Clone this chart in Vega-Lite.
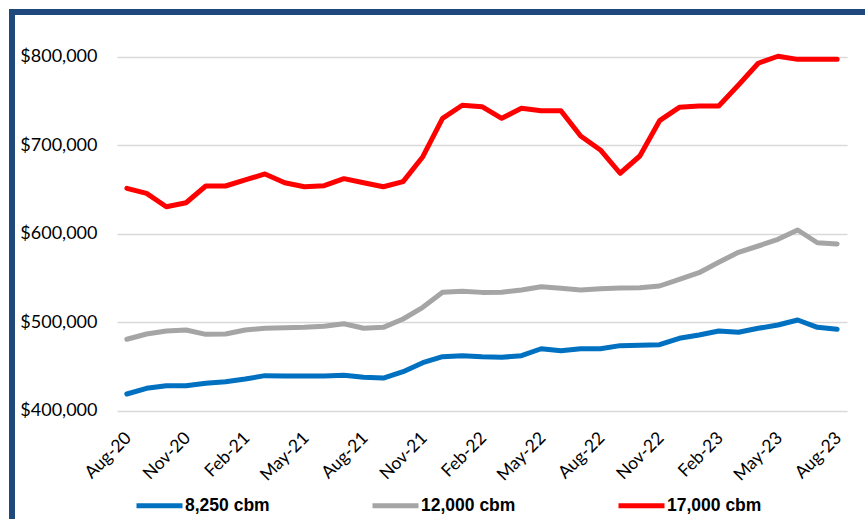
{
  "$schema": "https://vega.github.io/schema/vega-lite/v6.json",
  "width": 860,
  "height": 515,
  "autosize": {"type": "none"},
  "padding": {"left": 12, "top": 12, "right": -7, "bottom": -8},
  "background": "white",
  "config": {"view": {"stroke": "#1F497D", "strokeWidth": 6}, "font": "Lato"},
  "data": {"values": [
    {"month":"Aug-20","series":"8,250 cbm","price":418900},{"month":"Sep-20","series":"8,250 cbm","price":425300},{"month":"Oct-20","series":"8,250 cbm","price":428300},{"month":"Nov-20","series":"8,250 cbm","price":428300},{"month":"Dec-20","series":"8,250 cbm","price":431000},{"month":"Jan-21","series":"8,250 cbm","price":432800},{"month":"Feb-21","series":"8,250 cbm","price":435800},{"month":"Mar-21","series":"8,250 cbm","price":439600},{"month":"Apr-21","series":"8,250 cbm","price":439200},{"month":"May-21","series":"8,250 cbm","price":439200},{"month":"Jun-21","series":"8,250 cbm","price":439200},{"month":"Jul-21","series":"8,250 cbm","price":440000},{"month":"Aug-21","series":"8,250 cbm","price":437700},{"month":"Sep-21","series":"8,250 cbm","price":436900},{"month":"Oct-21","series":"8,250 cbm","price":444100},{"month":"Nov-21","series":"8,250 cbm","price":454200},{"month":"Dec-21","series":"8,250 cbm","price":461000},{"month":"Jan-22","series":"8,250 cbm","price":462200},{"month":"Feb-22","series":"8,250 cbm","price":461000},{"month":"Mar-22","series":"8,250 cbm","price":460300},{"month":"Apr-22","series":"8,250 cbm","price":462200},{"month":"May-22","series":"8,250 cbm","price":470000},{"month":"Jun-22","series":"8,250 cbm","price":467800},{"month":"Jul-22","series":"8,250 cbm","price":470000},{"month":"Aug-22","series":"8,250 cbm","price":470000},{"month":"Sep-22","series":"8,250 cbm","price":473500},{"month":"Oct-22","series":"8,250 cbm","price":473900},{"month":"Nov-22","series":"8,250 cbm","price":474600},{"month":"Dec-22","series":"8,250 cbm","price":481800},{"month":"Jan-23","series":"8,250 cbm","price":485500},{"month":"Feb-23","series":"8,250 cbm","price":490000},{"month":"Mar-23","series":"8,250 cbm","price":488600},{"month":"Apr-23","series":"8,250 cbm","price":493100},{"month":"May-23","series":"8,250 cbm","price":496800},{"month":"Jun-23","series":"8,250 cbm","price":502500},{"month":"Jul-23","series":"8,250 cbm","price":494200},{"month":"Aug-23","series":"8,250 cbm","price":492000},
    {"month":"Aug-20","series":"12,000 cbm","price":480700},{"month":"Sep-20","series":"12,000 cbm","price":486700},{"month":"Oct-20","series":"12,000 cbm","price":490000},{"month":"Nov-20","series":"12,000 cbm","price":491200},{"month":"Dec-20","series":"12,000 cbm","price":486300},{"month":"Jan-21","series":"12,000 cbm","price":486700},{"month":"Feb-21","series":"12,000 cbm","price":491200},{"month":"Mar-21","series":"12,000 cbm","price":493100},{"month":"Apr-21","series":"12,000 cbm","price":493800},{"month":"May-21","series":"12,000 cbm","price":494200},{"month":"Jun-21","series":"12,000 cbm","price":495400},{"month":"Jul-21","series":"12,000 cbm","price":498300},{"month":"Aug-21","series":"12,000 cbm","price":493100},{"month":"Sep-21","series":"12,000 cbm","price":494200},{"month":"Oct-21","series":"12,000 cbm","price":503600},{"month":"Nov-21","series":"12,000 cbm","price":516800},{"month":"Dec-21","series":"12,000 cbm","price":533800},{"month":"Jan-22","series":"12,000 cbm","price":534900},{"month":"Feb-22","series":"12,000 cbm","price":533700},{"month":"Mar-22","series":"12,000 cbm","price":533800},{"month":"Apr-22","series":"12,000 cbm","price":536400},{"month":"May-22","series":"12,000 cbm","price":540100},{"month":"Jun-22","series":"12,000 cbm","price":538300},{"month":"Jul-22","series":"12,000 cbm","price":536400},{"month":"Aug-22","series":"12,000 cbm","price":537900},{"month":"Sep-22","series":"12,000 cbm","price":538700},{"month":"Oct-22","series":"12,000 cbm","price":539000},{"month":"Nov-22","series":"12,000 cbm","price":540900},{"month":"Dec-22","series":"12,000 cbm","price":548500},{"month":"Jan-23","series":"12,000 cbm","price":555900},{"month":"Feb-23","series":"12,000 cbm","price":567700},{"month":"Mar-23","series":"12,000 cbm","price":579000},{"month":"Apr-23","series":"12,000 cbm","price":586100},{"month":"May-23","series":"12,000 cbm","price":593700},{"month":"Jun-23","series":"12,000 cbm","price":604200},{"month":"Jul-23","series":"12,000 cbm","price":589800},{"month":"Aug-23","series":"12,000 cbm","price":588400},
    {"month":"Aug-20","series":"17,000 cbm","price":651300},{"month":"Sep-20","series":"17,000 cbm","price":645600},{"month":"Oct-20","series":"17,000 cbm","price":630500},{"month":"Nov-20","series":"17,000 cbm","price":635000},{"month":"Dec-20","series":"17,000 cbm","price":653900},{"month":"Jan-21","series":"17,000 cbm","price":653900},{"month":"Feb-21","series":"17,000 cbm","price":660700},{"month":"Mar-21","series":"17,000 cbm","price":667500},{"month":"Apr-21","series":"17,000 cbm","price":657600},{"month":"May-21","series":"17,000 cbm","price":653100},{"month":"Jun-21","series":"17,000 cbm","price":654300},{"month":"Jul-21","series":"17,000 cbm","price":662200},{"month":"Aug-21","series":"17,000 cbm","price":657600},{"month":"Sep-21","series":"17,000 cbm","price":653100},{"month":"Oct-21","series":"17,000 cbm","price":658800},{"month":"Nov-21","series":"17,000 cbm","price":687000},{"month":"Dec-21","series":"17,000 cbm","price":730400},{"month":"Jan-22","series":"17,000 cbm","price":745100},{"month":"Feb-22","series":"17,000 cbm","price":743500},{"month":"Mar-22","series":"17,000 cbm","price":730400},{"month":"Apr-22","series":"17,000 cbm","price":741700},{"month":"May-22","series":"17,000 cbm","price":739000},{"month":"Jun-22","series":"17,000 cbm","price":739000},{"month":"Jul-22","series":"17,000 cbm","price":710400},{"month":"Aug-22","series":"17,000 cbm","price":694600},{"month":"Sep-22","series":"17,000 cbm","price":668300},{"month":"Oct-22","series":"17,000 cbm","price":687800},{"month":"Nov-22","series":"17,000 cbm","price":727700},{"month":"Dec-22","series":"17,000 cbm","price":742800},{"month":"Jan-23","series":"17,000 cbm","price":744300},{"month":"Feb-23","series":"17,000 cbm","price":744300},{"month":"Mar-23","series":"17,000 cbm","price":768000},{"month":"Apr-23","series":"17,000 cbm","price":792600},{"month":"May-23","series":"17,000 cbm","price":800500},{"month":"Jun-23","series":"17,000 cbm","price":797000},{"month":"Jul-23","series":"17,000 cbm","price":797000},{"month":"Aug-23","series":"17,000 cbm","price":797000}
  ]},
  "mark": {"type": "line", "strokeWidth": 5, "strokeCap": "round", "strokeJoin": "round"},
  "encoding": {
    "x": {
      "field": "month", "type": "ordinal", "sort": null,
      "scale": {"type": "point", "range": [105, 835], "padding": 0.5},
      "axis": {
        "values": ["Aug-20","Nov-20","Feb-21","May-21","Aug-21","Nov-21","Feb-22","May-22","Aug-22","Nov-22","Feb-23","May-23","Aug-23"],
        "labelAngle": -45, "labelFont": "Lato", "labelFontSize": 17.5, "labelColor": "#000000",
        "domain": false, "ticks": false, "grid": false, "offset": -116.3, "labelPadding": 18, "labelOffset": -5, "title": null
      }
    },
    "y": {
      "field": "price", "type": "quantitative",
      "scale": {"domain": [400000, 800000], "range": [398.7, 44.7], "nice": false, "zero": false},
      "axis": {
        "values": [400000, 500000, 600000, 700000, 800000], "format": "$,.0f",
        "labelFont": "Lato", "labelFontSize": 18, "labelColor": "#000000",
        "domain": false, "ticks": false, "grid": true, "gridColor": "#D9D9D9", "gridWidth": 1.3,
        "offset": -105, "labelPadding": 20, "title": null
      }
    },
    "color": {
      "field": "series", "type": "nominal",
      "scale": {"domain": ["8,250 cbm", "12,000 cbm", "17,000 cbm"], "range": ["#0070C0", "#A5A5A5", "#FF0000"]},
      "legend": {
        "orient": "none", "legendX": 122, "legendY": 468, "direction": "horizontal", "title": null,
        "symbolType": "stroke", "symbolSize": 2116, "symbolStrokeWidth": 5,
        "labelFont": "Liberation Sans", "labelFontWeight": "bold", "labelFontSize": 17.5, "labelColor": "#000000",
        "columnPadding": 92, "labelOffset": 0, "padding": 0
      }
    }
  }
}
